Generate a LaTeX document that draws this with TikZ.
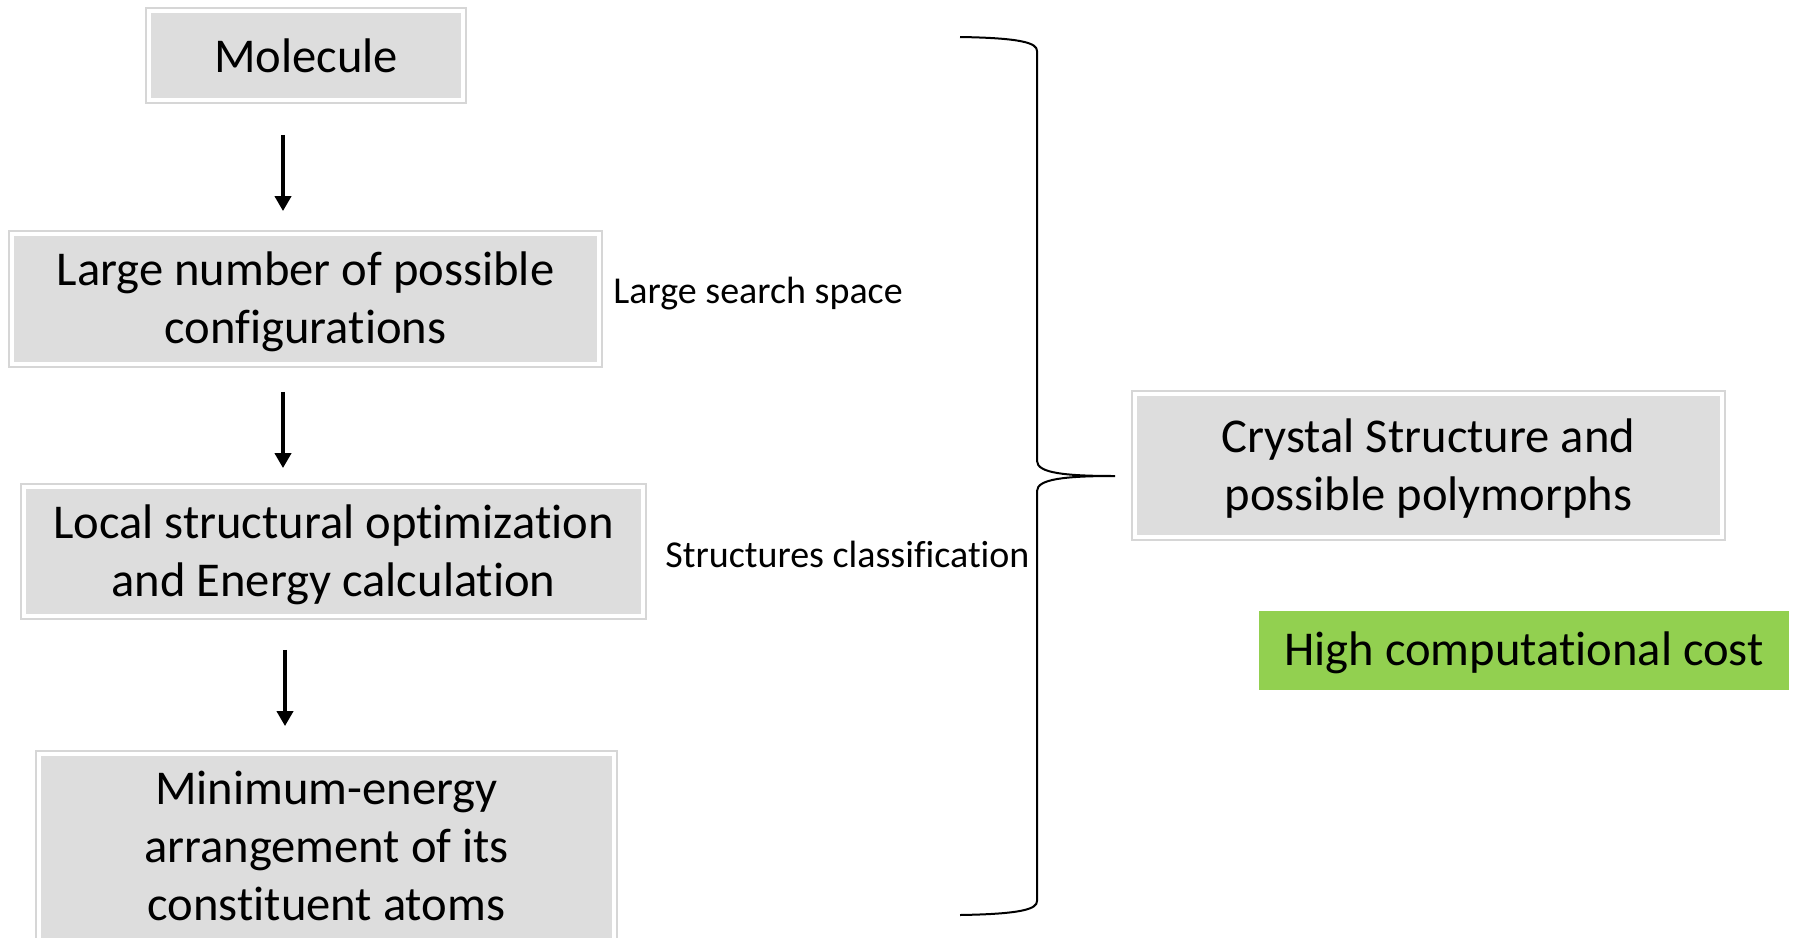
\documentclass[tikz,border=0pt]{standalone}
\usepackage{fontspec}
\setmainfont{Carlito}[Ligatures={NoCommon,NoRequired,NoContextual}]
\usetikzlibrary{arrows.meta,calc}
\definecolor{boxgray}{HTML}{DDDDDD}
\definecolor{bordergray}{HTML}{D6D6D6}
\definecolor{hcgreen}{HTML}{92D050}
\newcommand{\lowtext}[2]{\raisebox{-#1}[\height][\depth]{\begin{tabular}{@{}c@{}}#2\end{tabular}}}
\begin{document}
\begin{tikzpicture}[x=0.5pt,y=-0.5pt,
  gbox/.style={draw=bordergray, line width=0.9pt, fill=white, inner sep=0pt,
    align=center, font=\fontsize{24.3}{29}\selectfont,
    path picture={\fill[boxgray] ([shift={(2.6pt,2.6pt)}]path picture bounding box.south west) rectangle ([shift={(-2.6pt,-2.6pt)}]path picture bounding box.north east);}},
  lbl/.style={anchor=west, inner sep=0pt, font=\fontsize{19}{23}\selectfont},
  arr/.style={-{Triangle[length=7.5pt,width=8pt]}, line width=2pt},
  brace/.style={line width=1pt}]
\useasboundingbox (0,0) rectangle (1797,937);
\node[gbox, minimum width=160pt, minimum height=47.5pt] (mol) at (306,55.5) {Molecule};
\node[gbox, minimum width=296.5pt, minimum height=68pt] (big) at (305.5,299) {\lowtext{2pt}{Large number of possible\\configurations}};
\node[gbox, minimum width=312.5pt, minimum height=67.5pt] (loc) at (333.5,551.5) {\lowtext{2pt}{Local structural optimization\\and Energy calculation}};
\node[gbox, minimum width=290.5pt, minimum height=96pt] (min) at (326.5,847) {\lowtext{2pt}{Minimum-energy\\arrangement of its\\constituent atoms}};
\node[gbox, minimum width=296.5pt, minimum height=74.5pt] (cry) at (1428.5,465.5) {\lowtext{2pt}{Crystal Structure and\\possible polymorphs}};
\node[fill=hcgreen, minimum width=265pt, minimum height=39.5pt, inner sep=0pt,
  font=\fontsize{24.3}{29}\selectfont] (cost) at (1524,650) {\lowtext{1.7pt}{High computational cost}};
\node[lbl] (lss) at (613,293.5) {Large search space};
\node[lbl] (scl) at (665,554) {Structures classification};
\draw[arr, shorten <=15.5pt, shorten >=9.5pt] ([xshift=-11.5pt]mol.south) -- ([xshift=-11.5pt]mol.south |- big.north);
\draw[arr, shorten <=12pt, shorten >=7.5pt] ([xshift=-11.25pt]big.south) -- ([xshift=-11.25pt]big.south |- loc.north);
\draw[arr, shorten <=15pt, shorten >=12pt] ([xshift=-24.25pt]loc.south) -- ([xshift=-24.25pt]loc.south |- min.north);
\coordinate (tip) at (1115,476);
\draw[brace] (960,37) .. controls (1022,38) and (1037,43) .. (1037,51) -- (1037,461)
  .. controls (1037,473) and (1065,476) .. (tip)
  .. controls (1065,476) and (1037,479) .. (1037,491) -- (1037,901)
  .. controls (1037,909) and (1022,914) .. (960,915);
\end{tikzpicture}
\end{document}
